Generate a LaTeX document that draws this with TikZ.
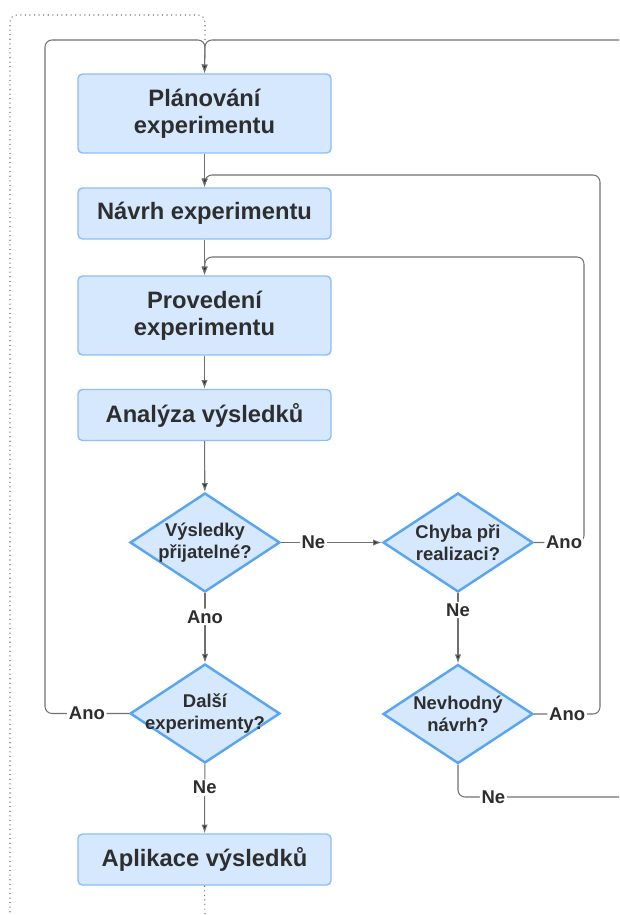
\documentclass[tikz,border=0pt]{standalone}
\usepackage{fontspec}
\setmainfont{Liberation Sans}
\usetikzlibrary{shapes.geometric}
\usetikzlibrary{positioning}
\usetikzlibrary{arrows.meta}

\definecolor{boxfill}{HTML}{D5E8FD}
\definecolor{boxline}{HTML}{8CBEF7}
\definecolor{dialine}{HTML}{5AA5F2}
\definecolor{txt}{HTML}{2E2E2E}
\definecolor{conn}{HTML}{707070}

\tikzset{
	stepbox/.style={rectangle,draw=boxline,line width=0.8pt,fill=boxfill,rounded corners=2.5pt,
		minimum width=5.06cm,text=txt,align=center,font=\bfseries\fontsize{13.5}{15.5}\selectfont},
	decision/.style={diamond,draw=dialine,line width=1.4pt,fill=boxfill,aspect=1.5,
		minimum width=3cm,minimum height=1.98cm,inner xsep=-0.35cm,inner ysep=-0.15cm,
		text=txt,align=center,font=\bfseries\fontsize{10.5}{12.5}\selectfont},
	lbl/.style={fill=white,inner sep=1pt,text=txt,font=\bfseries\fontsize{10.5}{12}\selectfont},
	link/.style={draw=conn,line width=0.6pt,rounded corners=4pt}
}

\begin{document}
\begin{tikzpicture}[x=0.02cm,y=-0.02cm,every path/.style={>={Latex[length=5pt,width=3.6pt,fill=txt]}}]
	\useasboundingbox (0,0) rectangle (619,915);

	% process boxes
	\node[stepbox,minimum height=1.58cm] (pla) at (204.5,113.5) {Plánování\\experimentu};
	\node[stepbox,minimum height=1.02cm] (nav) at (204.5,213.5) {Návrh experimentu};
	\node[stepbox,minimum height=1.58cm] (pro) at (204.5,315.5) {Provedení\\experimentu};
	\node[stepbox,minimum height=1.02cm] (ana) at (204.5,415) {Analýza výsledků};
	\node[stepbox,minimum height=1.02cm] (apl) at (204.5,859.5) {Aplikace výsledků};

	% decisions
	\node[decision] (vys) at (205,542.5) {Výsledky\\přijatelné?};
	\node[decision] (chy) at (458,542.5) {Chyba při\\realizaci?};
	\node[decision] (dal) at (205,713.5) {Další\\experimenty?};
	\node[decision] (nev) at (458,714) {Nevhodný\\návrh?};

	% free ends at the picture border
	\coordinate (topin) at (619,40);
	\coordinate (neout) at (619,797);
	\coordinate (dotend) at (205,915);

	% main flow
	\draw[link,->] (pla) -- (nav);
	\draw[link,->] (nav) -- (pro);
	\draw[link,->] (pro) -- (ana);
	\draw[link,->] (ana) -- (vys);
	\draw[link,->] (vys) -- node[lbl,pos=0.32] {Ne} (chy);
	\draw[link,->] (vys) -- node[lbl,pos=0.34] {Ano} (dal);
	\draw[link,->] (chy) -- node[lbl,pos=0.24] {Ne} (nev);
	\draw[link,->] (dal) -- node[lbl,pos=0.34] {Ne} (apl);

	% loops back
	\draw[link,->] (dal.west) -- node[lbl] {Ano} (45,713.5) -- (45,40) -- (205,40) -- (pla.north);
	\draw[link,->] (topin) -- (205,40) -- (pla.north);
	\draw[link,->] (nev.east) -- node[lbl,pos=0.5] {Ano} (600,714) -- (600,175) -- (205,175) -- (nav.north);
	\draw[link,->] (chy.east) -- node[lbl,pos=0.6] {Ano} (584,542.5) -- (584,257) -- (205,257) -- (pro.north);
	\draw[link] (nev.south) -- (458,797) -- node[lbl,pos=0.22] {Ne} (neout);

	% dotted continuation
	\draw[link,dotted] (apl.south) -- (dotend);
	\draw[link,dotted] (205,40) -- (205,15) -- (10,15) -- (10,915);
\end{tikzpicture}
\end{document}
